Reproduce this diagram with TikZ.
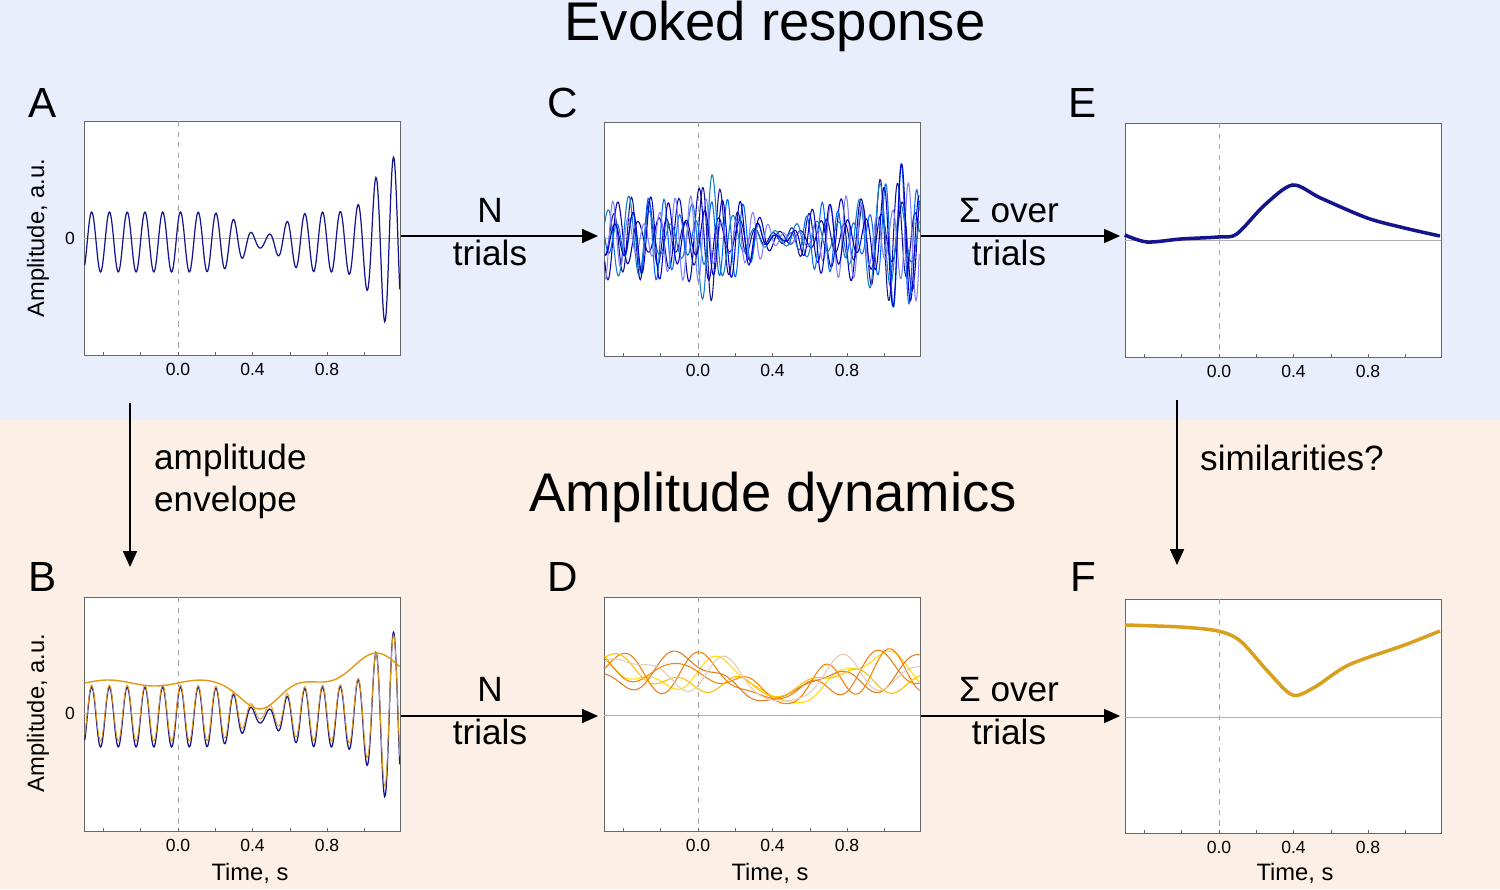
\documentclass[tikz,border=0pt]{standalone}
\usepackage{fontspec}
\setmainfont{Liberation Sans}
\usetikzlibrary{arrows.meta}
\definecolor{topbg}{HTML}{E8EEFC}
\definecolor{botbg}{HTML}{FCF0E6}
\definecolor{navy}{HTML}{14148C}
\definecolor{gold}{HTML}{D9A020}
\tikzset{
  panel/.style={draw=black!60,fill=white,line width=0.5pt},
  flow/.style={-{Triangle[length=9pt,width=8pt]},line width=0.6pt},
  tick/.style={font=\fontsize{10}{12}\selectfont},
  letter/.style={font=\fontsize{24}{28}\selectfont},
  step label/.style={font=\fontsize{20}{24}\selectfont,align=center},
  axis label/.style={font=\fontsize{13.5}{16}\selectfont}
}
\newcommand{\panelbox}[3]{% name, left x, top y
  \node[panel,minimum width=316*0.02cm,minimum height=234*0.02cm,anchor=north west,inner sep=0] (#1) at (#2,#3) {};
}
\begin{document}
\begin{tikzpicture}
  [x=0.02cm,y=-0.02cm]
  \useasboundingbox (0,0) rectangle (1500,889);
  \fill[topbg] (0,0) rectangle (1500,420);
  \fill[botbg] (0,420) rectangle (1500,889);
  \node[font=\fontsize{31}{36}\selectfont] (evoked) at (775,26) {Evoked response};
  \node[font=\fontsize{31}{36}\selectfont] (ampdyn) at (773,497) {Amplitude dynamics};

  % panels
  \panelbox{pA}{84}{121}
  \panelbox{pC}{604}{122}
  \panelbox{pE}{1125}{123}
  \panelbox{pB}{84}{597}
  \panelbox{pD}{604}{597}
  \panelbox{pF}{1125}{599}

  \node[letter] (lA) at (43,103) {A};
  \node[letter] (lC) at (563,103) {C};
  \node[letter] (lE) at (1083,103) {E};
  \node[letter] (lB) at (43,577) {B};
  \node[letter] (lD) at (563,577) {D};
  \node[letter] (lF) at (1083,577) {F};

  % axes furniture
  \foreach \px/\py/\zy in {84/121/238, 604/122/238, 1125/123/240, 84/597/713, 604/597/715, 1125/599/717}{
    \draw[black!30,line width=0.4pt] (\px,\zy) -- ++(316,0);
    \draw[black!35,dashed,line width=0.4pt] (\px+94,\py) -- ++(0,234);
    \foreach \t/\lab in {0/0.0,1/0.4,2/0.8}
      \node[tick] at (\px+94+\t*74.5,\py+248) {\lab};
    \foreach \k in {0,...,7}
      \draw[black!60] (\px+94+\k*37.3-74.6,\py+234) -- ++(0,-3);
  }
  \node[axis label,rotate=90] (yA) at (38,238) {Amplitude, a.u.};
  \node[axis label,rotate=90] (yB) at (38,713) {Amplitude, a.u.};
  \node[tick] (zA) at (70,238) {0};
  \node[tick] (zB) at (70,713) {0};
  \node[axis label] (tB) at (250,873) {Time, s};
  \node[axis label] (tD) at (770,873) {Time, s};
  \node[axis label] (tF) at (1295,873) {Time, s};

  % A: single trial
  \begin{scope}[shift={(178,238)},x=3.73cm,y=0.02cm]
    \clip (-0.504,117) rectangle (1.19,-117);
    \draw[navy,line width=0.7pt] plot[smooth,domain=-0.5:1.19,samples=500]
      (\x,{(30-24*exp(-((\x-0.45)/0.14)^2)+55*exp(-((\x-1.15)/0.13)^2))*sin(360*10.5*\x+40)-4});
  \end{scope}
  % B: trial with envelope
  \begin{scope}[shift={(178,713)},x=3.73cm,y=0.02cm]
    \clip (-0.504,117) rectangle (1.19,-117);
    \draw[navy,line width=0.7pt] plot[smooth,domain=-0.5:1.19,samples=500]
      (\x,{(30-24*exp(-((\x-0.45)/0.14)^2)+55*exp(-((\x-1.15)/0.13)^2))*sin(360*10.5*\x+40)-4});
    \draw[gold!80!orange,line width=0.5pt] plot[smooth,domain=-0.5:1.19,samples=500]
      (\x,{(28-22*exp(-((\x-0.45)/0.14)^2)+50*exp(-((\x-1.15)/0.13)^2))*sin(360*10.5*\x+40)});
    \draw[gold!80!orange,line width=0.8pt] plot[smooth,domain=-0.5:1.19,samples=120]
      (\x,{30-24*exp(-((\x-0.45)/0.14)^2)+28*exp(-((\x-1.05)/0.17)^2)+3*sin(360*2*\x)});
  \end{scope}
  % C: many trials
  \begin{scope}[shift={(698,238)},x=3.73cm,y=0.02cm]
    \clip (-0.504,117) rectangle (1.19,-117);
    \foreach \ph/\fr/\col in {0/10.5/navy, 70/9.2/blue!70!black, 140/11.8/blue!60!cyan, 200/8.9/cyan!60!blue, 260/12/blue!50!white, 320/10.4/blue!80!black}
      \draw[\col,line width=0.6pt] plot[smooth,domain=-0.5:1.19,samples=400]
        (\x,{(28-23*exp(-((\x-0.45)/0.16)^2)+22*exp(-((\x-1.1)/0.15)^2)+18*exp(-((\x-0.05)/0.06)^2))*(1+0.5*sin(360*2.3*\x+2*\ph))*sin(360*\fr*\x+\ph)});
  \end{scope}
  % D: many envelopes
  \begin{scope}[shift={(698,715)},x=3.73cm,y=0.02cm]
    \clip (-0.504,117) rectangle (1.19,-117);
    \foreach \ph/\fr/\col in {0/1.3/yellow!80!orange, 60/2.1/orange!80!brown, 130/1.5/brown!60!orange, 200/2.6/orange, 280/0.9/orange!50!yellow, 330/1.8/brown!40!white}
      \draw[\col,line width=0.6pt] plot[smooth,domain=-0.5:1.19,samples=120]
        (\x,{(38-28*exp(-((\x-0.45)/0.22)^2))*(1+0.4*sin(360*\fr*\x+\ph)+0.2*sin(360*3.1*\x+2*\ph))+6});
  \end{scope}
  % E: evoked average
  \begin{scope}[shift={(1218,240)},x=3.73cm,y=0.02cm]
    \draw[navy,line width=2pt] plot[smooth] coordinates
      {(-0.5,5) (-0.38,-2) (-0.2,1) (0,3) (0.1,6) (0.25,35) (0.4,55) (0.55,42) (0.8,22) (1.0,12) (1.19,4)};
  \end{scope}
  % F: averaged amplitude
  \begin{scope}[shift={(1218,717)},x=3.73cm,y=0.02cm]
    \draw[gold,line width=2pt] plot[smooth] coordinates
      {(-0.5,92) (-0.2,90) (0,86) (0.12,76) (0.27,45) (0.4,22) (0.52,30) (0.7,52) (1.0,72) (1.19,86)};
  \end{scope}

  % connectors
  \draw[flow] (pA.east |- 0,236) -- (598,236);
  \draw[flow] (pC.east |- 0,236) -- (1120,236);
  \draw[flow] (pB.east |- 0,716) -- (598,716);
  \draw[flow] (pD.east |- 0,716) -- (1120,716);
  \draw[flow] (130,403) -- (130,567);
  \draw[flow] (1177,400) -- (1177,565);
  \node[step label] (nA) at (490,232) {N\\trials};
  \node[step label] (nB) at (490,711) {N\\trials};
  \node[step label] (sE) at (1009,232) {Σ over\\trials};
  \node[step label] (sF) at (1009,711) {Σ over\\trials};
  \node[step label,align=left,anchor=west] (env) at (148,481) {amplitude\\envelope};
  \node[step label,anchor=west] (sim) at (1194,458) {similarities?};
\end{tikzpicture}
\end{document}
